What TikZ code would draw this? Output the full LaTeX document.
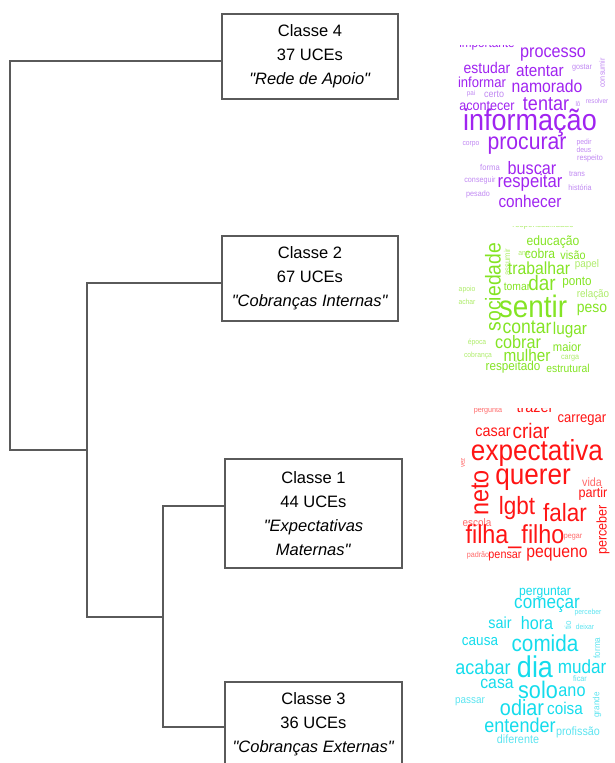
\documentclass[tikz,border=0pt]{standalone}
\usepackage{fontspec}
\setmainfont{Liberation Sans}[Ligatures=TeXOff]
\newfontfamily\cloudfont[FakeStretch=0.9]{Liberation Sans}
\definecolor{linegray}{HTML}{5A5A5A}
\definecolor{pA}{HTML}{A024F0}
\definecolor{pB}{HTML}{C088F2}
\definecolor{gA}{HTML}{84E424}
\definecolor{gB}{HTML}{AEEC6A}
\definecolor{rA}{HTML}{FF1414}
\definecolor{rB}{HTML}{FF6A6A}
\definecolor{cA}{HTML}{14DCEC}
\definecolor{cB}{HTML}{5CE4F0}
\begin{document}
\begin{tikzpicture}[x=1pt,y=-1pt,line width=1.3pt]
  \tikzstyle{classe}=[draw=linegray,rectangle,align=center,inner sep=2pt,minimum width=176pt,minimum height=85pt,font=\fontsize{16.5}{24}\selectfont]
  \tikzstyle{word}=[inner sep=0pt,font=\cloudfont\fontsize{\s}{\s}\selectfont]
  \useasboundingbox (0,0) rectangle (615,763);
  \def\xa{10}	% root of the tree
  \def\xb{87}	% join of classes 2,1,3
  \def\xc{163}	% join of classes 1,3
  \node[classe] (c4) at (310,56.5) {Classe 4\\37 UCEs\\\textit{"Rede de Apoio"}};
  \node[classe] (c2) at (310,278.5) {Classe 2\\67 UCEs\\\textit{"Cobranças Internas"}};
  \node[classe,minimum width=177pt,minimum height=109pt] (c1) at (313.5,513.5) {Classe 1\\44 UCEs\\\textit{"Expectativas}\\\textit{Maternas"}};
  \node[classe,minimum width=177pt] (c3) at (313.5,724.5) {Classe 3\\36 UCEs\\\textit{"Cobranças Externas"}};
  \coordinate (j3) at (\xc,617);
  \coordinate (b2) at (\xb,617);
  \coordinate (j2) at (\xb,450);
  \coordinate (a1) at (\xa,450);

  \draw[linegray] ([yshift=7.5pt]c1.west) -| (j3) |- ([yshift=-2.5pt]c3.west);
  \draw[linegray] ([yshift=-4.5pt]c2.west) -| (b2) -- (j3);
  \draw[linegray] ([yshift=-4.5pt]c4.west) -| (a1) -- (j2);

  % word clouds
  \begin{scope}
    \clip (440,45) rectangle (615,215);
    \foreach \x/\y/\s/\r/\c/\t [count=\i] in {487/44/13/0/pA/importante, 553/55/18/0/pA/processo,
      602/73/8/90/pB/consumir, 487/68/15.5/0/pA/estudar, 540/71/17/0/pA/atentar, 582/68/8/0/pB/gostar,
      482/82/14.5/0/pA/informar, 547/86/17.5/0/pA/namorado, 471/94/7/0/pB/pai, 494/94/10/0/pB/certo,
      487/106/14/0/pA/acontecer, 546/104/20/0/pA/tentar, 578/104/7/0/pB/lô, 597/101/7/0/pB/resolver,
      530/123/30/0/pA/informação, 471/144/7.5/0/pB/corpo, 527/146/23.5/0/pA/procurar, 584/143/7.5/0/pB/pedir,
      584/150/7.5/0/pB/deus, 590/158/8/0/pB/respeito, 490/167/8.5/0/pB/forma, 532/168/18/0/pA/buscar,
      577/174/8/0/pB/trans, 480/180/8/0/pB/conseguir, 530/183/18.5/0/pA/respeitar, 580/188/8/0/pB/história,
      478/194/8/0/pB/pesado, 530/201/17/0/pA/conhecer}
      \node[word,color=\c,rotate=\r] (p\i) at (\x,\y) {\t};
  \end{scope}
  \begin{scope}
    \clip (440,226) rectangle (615,380);
    \foreach \x/\y/\s/\r/\c/\t [count=\i] in {543/225/9/0/gB/responsabilidade, 553/242/13.5/0/gA/educação,
      493/287/21.5/90/gA/sociedade, 507/262/8.5/90/gB/assumir, 524/254/7.5/0/gB/ana, 540/254/13.5/0/gA/cobra,
      573/255/12/0/gA/visão, 539/268/17.5/0/gA/trabalhar, 587/265/11/0/gB/papel, 467/290/7.5/0/gB/apoio,
      517/287/11.5/0/gA/tomar, 542/283/21/0/gA/dar, 577/283/13/0/gA/ponto, 593/295/11/0/gB/relação,
      467/302/7.5/0/gB/achar, 533/306/31/0/gA/sentir, 592/310/15.5/0/gA/peso, 527/327/19.5/0/gA/contar,
      570/330/17/0/gA/lugar, 477/343/7.5/0/gB/época, 518/342/18/0/gA/cobrar, 567/347/12.5/0/gA/maior,
      478/356/7.5/0/gB/cobrança, 527/355/17/0/gA/mulher, 570/358/8/0/gB/carga, 513/367/13/0/gA/respeitado,
      568/368/11.5/0/gA/estrutural}
      \node[word,color=\c,rotate=\r] (g\i) at (\x,\y) {\t};
  \end{scope}
  \begin{scope}
    \clip (440,408) rectangle (615,570);
    \foreach \x/\y/\s/\r/\c/\t [count=\i] in {488/411/8/0/rB/pergunta, 535/407/16/0/rA/trazer,
      582/420/14.5/0/rA/carregar, 493/432/16/0/rA/casar, 531/431/21/0/rA/criar, 537/453/29/0/rA/expectativa,
      463/463/7/90/rB/vez, 480/493/26/90/rA/neto, 533/480/29/0/rA/querer, 592/482/12/0/rB/vida,
      593/494/14/0/rA/partir, 517/508/25/0/rA/lgbt, 565/513/25/0/rA/falar, 477/523/11/0/rB/escola,
      603/530/14/90/rA/perceber, 515/537/26/0/rA/filha\_filho, 573/537/8/0/rB/pegar, 478/555/8/0/rB/padrão,
      505/557/12/0/rA/pensar, 557/555/17.5/0/rA/pequeno}
      \node[word,color=\c,rotate=\r] (r\i) at (\x,\y) {\t};
  \end{scope}
  \foreach \x/\y/\s/\r/\c/\t [count=\i] in {545/593/13.5/0/cA/perguntar, 547/605/19/0/cA/começar,
    588/613/7.5/0/cB/perceber, 500/623/16/0/cA/sair, 537/623/18/0/cA/hora, 568/625/9/90/cB/tio,
    585/627/7.5/0/cB/deixar, 480/642/15/0/cA/causa, 545/643/23/0/cA/comida, 597/648/9/90/cB/forma,
    483/667/20/0/cA/acabar, 535/667/30/0/cA/dia, 582/667/19/0/cA/mudar, 580/679/8/0/cB/ficar,
    497/684/17.5/0/cA/casa, 538/690/24/0/cA/solo, 572/692/18/0/cA/ano, 597/705/9/90/cB/grande,
    470/702/11/0/cB/passar, 522/708/22/0/cA/odiar, 565/708/17/0/cA/coisa, 520/725/20/0/cA/entender,
    578/732/12/0/cB/profissão, 518/739/12/0/cB/diferente}
    \node[word,color=\c,rotate=\r] (w\i) at (\x,\y) {\t};
\end{tikzpicture}
\end{document}
